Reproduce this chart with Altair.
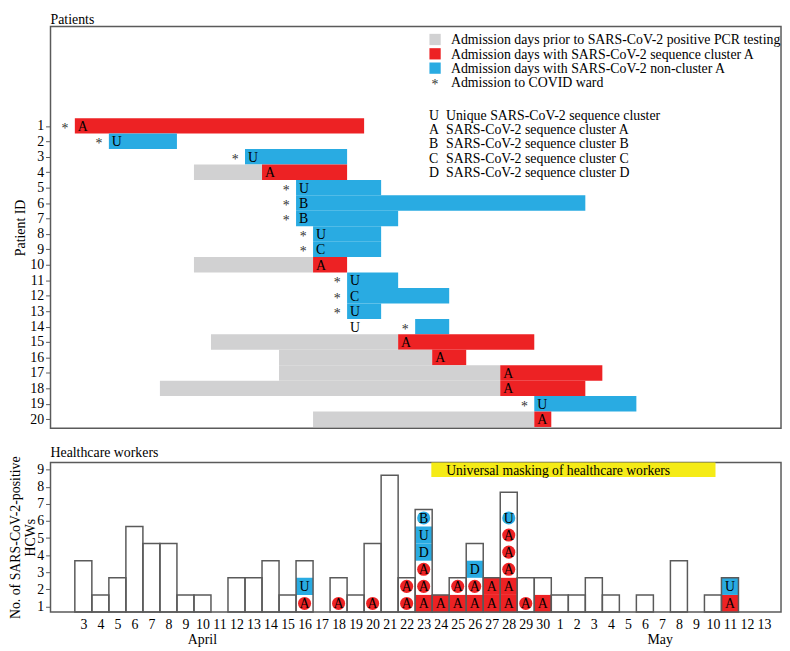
import altair as alt
import pandas as pd

FONT = "Liberation Serif"
RED = "#ED2224"
BLUE = "#29ABE2"
GRAY = "#D1D1D2"
YELLOW = "#F5EB17"
FRAME = "#5a5a5a"

# ---------------- Patients panel data ----------------
patient_ids = list(range(1, 21))
gray_start = [None, None, None, 10, None, None, None, None, None, 10, None, None, None, None, 11, 15, 15, 8, None, 17]
gray_end = [None, None, None, 13, None, None, None, None, None, 16, None, None, None, None, 21, 23, 27, 27, None, 29]
seq_start = [3, 5, 13, 14, 16, 16, 16, 17, 17, 17, 19, 19, 19, 23, 22, 24, 28, 28, 30, 30]
seq_end = [19, 8, 18, 18, 20, 32, 21, 20, 20, 18, 21, 24, 20, 24, 29, 25, 33, 32, 35, 30]
cluster_letter = ["A", "U", "U", "A", "U", "B", "B", "U", "C", "A", "U", "C", "U", "U", "A", "A", "A", "A", "U", "A"]
letter_day = [3, 5, 13, 14, 16, 16, 16, 17, 17, 17, 19, 19, 19, 19, 22, 24, 28, 28, 30, 30]
covid_ward = [1, 1, 1, 0, 1, 1, 1, 1, 1, 0, 1, 1, 1, 1, 0, 0, 0, 0, 1, 0]

legend_fill_labels = [
    "Admission days prior to SARS-CoV-2 positive PCR testing",
    "Admission days with SARS-CoV-2 sequence cluster A",
    "Admission days with SARS-CoV-2 non-cluster A",
]
legend_fill_kinds = ["gray", "A", "nonA"]
legend_star_label = "Admission to COVID ward"
legend_letters = ["U", "A", "B", "C", "D"]
legend_letter_labels = [
    "Unique SARS-CoV-2 sequence cluster",
    "SARS-CoV-2 sequence cluster A",
    "SARS-CoV-2 sequence cluster B",
    "SARS-CoV-2 sequence cluster C",
    "SARS-CoV-2 sequence cluster D",
]
top_title = "Patients"

# ---------------- HCW panel data ----------------
hcw_days = list(range(3, 44))  # day index: April 3 = 3 ... May 13 = 43
hcw_counts = [3, 1, 2, 5, 4, 4, 1, 1, 0, 2, 2, 3, 1, 3, 0, 2, 1, 4, 8, 2, 6, 1, 2, 4, 2, 7,
              2, 2, 1, 1, 2, 1, 0, 1, 0, 3, 0, 1, 2, 0, 0]
seq_day = [16, 16, 18, 20, 22, 22, 23, 23, 23, 23, 23, 23, 24, 25, 25, 26, 26, 26, 27, 27,
           28, 28, 28, 28, 28, 28, 29, 30, 41, 41]
seq_unit = [1, 2, 1, 1, 1, 2, 1, 2, 3, 4, 5, 6, 1, 1, 2, 1, 2, 3, 1, 2,
            1, 2, 3, 4, 5, 6, 1, 1, 1, 2]
seq_letter = ["A", "U", "A", "A", "A", "A", "A", "A", "A", "D", "U", "B", "A", "A", "A", "A", "A", "D", "A", "A",
              "A", "A", "A", "A", "A", "U", "A", "A", "A", "U"]
seq_marker = ["circle", "square", "circle", "circle", "circle", "circle", "square", "circle", "circle", "square",
              "square", "circle", "square", "square", "circle", "square", "circle", "square", "square", "square",
              "square", "square", "circle", "circle", "circle", "circle", "circle", "square", "square", "square"]
masking_label = "Universal masking of healthcare workers"
masking_start = 23.45
masking_end = 40.15
month_labels = ["April", "May"]
month_days = [10, 36.9]
bottom_title = "Healthcare workers"

# ---------------- scales ----------------
X_DOM = [1.07, 44.0]
TOP_DOM = [-5.434, 20.59]
BOT_DOM = [0.676, 9.42]
BASE = BOT_DOM[0]
W = 739
H_TOP = 406.5
H_BOT = 151.3

xs = alt.Scale(domain=X_DOM, nice=False, zero=False)
ys_top = alt.Scale(domain=TOP_DOM, reverse=True, nice=False, zero=False)
ys_bot = alt.Scale(domain=BOT_DOM, nice=False, zero=False)
fill_scale = alt.Scale(domain=["gray", "A", "nonA"], range=[GRAY, RED, BLUE])

y_top_axis = alt.Axis(values=patient_ids, title="Patient ID", tickSize=5, labelPadding=2,
                      domain=False, grid=False, tickColor=FRAME, labelFont=FONT, labelFontSize=14,
                      labelColor="black", labelOverlap=False, titleFont=FONT, titleFontSize=14,
                      titleFontWeight="normal", titleColor="black", titleX=-30, titleBaseline="middle")
x_bot_axis = alt.Axis(values=hcw_days, labelExpr="datum.value > 30 ? datum.value - 30 : datum.value",
                      ticks=False, domain=False, grid=False, labelPadding=6, labelFont=FONT,
                      labelFontSize=14, labelColor="black", title=None, labelFlush=False,
                      labelOverlap=False)
y_bot_axis = alt.Axis(values=list(range(1, 10)), title=["No. of SARS-CoV-2-positive", "HCWs"],
                      tickSize=5, labelPadding=2, domain=False, grid=False, tickColor=FRAME,
                      labelFont=FONT, labelFontSize=14, labelColor="black", labelOverlap=False,
                      titleFont=FONT, titleFontSize=14, titleFontWeight="normal", titleColor="black",
                      titleX=-35, titleBaseline="middle", titleLineHeight=15)


def XT(f):
    return alt.X(f, scale=xs, axis=None)


def YT(f):
    return alt.Y(f, scale=ys_top, axis=y_top_axis)


def XB(f):
    return alt.X(f, scale=xs, axis=x_bot_axis)


def YB(f):
    return alt.Y(f, scale=ys_bot, axis=y_bot_axis)


# ---------------- Patients tables ----------------
bar_rows = []
for i, p in enumerate(patient_ids):
    if gray_start[i] is not None:
        bar_rows.append(dict(pid=p, x0=gray_start[i] - 0.5, x1=gray_end[i] + 0.5, kind="gray"))
    bar_rows.append(dict(pid=p, x0=seq_start[i] - 0.5, x1=seq_end[i] + 0.5,
                         kind="A" if cluster_letter[i] == "A" else "nonA"))
bars = pd.DataFrame(bar_rows)
bars["y0"] = bars["pid"] - 0.5
bars["y1"] = bars["pid"] + 0.5

letters = pd.DataFrame(dict(pid=patient_ids, x=[d - 0.5 for d in letter_day], letter=cluster_letter))
stars = pd.DataFrame(dict(pid=patient_ids, x=[s - 0.5 for s in seq_start], ward=covid_ward))
stars = stars[stars["ward"] == 1]

LEG_Y0, LEG_STEP = -4.595, 0.928
LEG2_Y0 = 0.27
leg1 = pd.DataFrame(dict(label=legend_fill_labels, kind=legend_fill_kinds))
leg1["y"] = [LEG_Y0 + i * LEG_STEP for i in range(len(leg1))]
leg1["xs"] = 23.67
leg1["xt"] = 24.6
leg_star = pd.DataFrame(dict(label=[legend_star_label], y=[LEG_Y0 + 3 * LEG_STEP], xs=[23.67], xt=[24.6]))
leg2 = pd.DataFrame(dict(letter=legend_letters, label=legend_letter_labels))
leg2["y"] = [LEG2_Y0 + i * LEG_STEP for i in range(len(leg2))]
leg2["xl"] = 23.32
leg2["xt"] = 24.31
ttl_top = pd.DataFrame(dict(label=[top_title], x=[X_DOM[0]], y=[TOP_DOM[0]]))

txt = dict(font=FONT, color="black")

top_bars = alt.Chart(bars).mark_rect().encode(
    x=XT("x0:Q"), x2="x1:Q", y=YT("y0:Q"), y2="y1:Q",
    color=alt.Color("kind:N", scale=fill_scale, legend=None))
top_letters = alt.Chart(letters).mark_text(fontSize=14, align="left", baseline="middle", dx=3, dy=1, **txt).encode(
    x=XT("x:Q"), y=YT("pid:Q"), text="letter:N")
top_stars = alt.Chart(stars).mark_text(font=FONT, fontSize=14, align="center", baseline="middle",
                                        dx=-10, dy=3, color="#333333").encode(
    x=XT("x:Q"), y=YT("pid:Q"), text=alt.value("*"))
leg1_sym = alt.Chart(leg1).mark_square(size=130, opacity=1).encode(
    x=XT("xs:Q"), y=YT("y:Q"), color=alt.Color("kind:N", scale=fill_scale, legend=None))
leg1_txt = alt.Chart(leg1).mark_text(fontSize=14, align="left", baseline="middle", dy=1, **txt).encode(
    x=XT("xt:Q"), y=YT("y:Q"), text="label:N")
legs_sym = alt.Chart(leg_star).mark_text(font=FONT, fontSize=14, align="center", baseline="middle",
                                          dy=3, color="#333333").encode(
    x=XT("xs:Q"), y=YT("y:Q"), text=alt.value("*"))
legs_txt = alt.Chart(leg_star).mark_text(fontSize=14, align="left", baseline="middle", dy=1, **txt).encode(
    x=XT("xt:Q"), y=YT("y:Q"), text="label:N")
leg2_let = alt.Chart(leg2).mark_text(fontSize=14, align="left", baseline="middle", dy=1, **txt).encode(
    x=XT("xl:Q"), y=YT("y:Q"), text="letter:N")
leg2_txt = alt.Chart(leg2).mark_text(fontSize=14, align="left", baseline="middle", dy=1, **txt).encode(
    x=XT("xt:Q"), y=YT("y:Q"), text="label:N")
top_ttl = alt.Chart(ttl_top).mark_text(fontSize=14, align="left", baseline="alphabetic", dy=-3, **txt).encode(
    x=XT("x:Q"), y=YT("y:Q"), text="label:N")

top = alt.layer(top_bars, top_letters, top_stars, leg1_sym, leg1_txt, legs_sym, legs_txt,
                leg2_let, leg2_txt, top_ttl).properties(width=W, height=H_TOP)

# ---------------- HCW tables ----------------
counts = pd.DataFrame(dict(day=hcw_days, count=hcw_counts))
counts = counts[counts["count"] > 0].copy()
counts["x0"] = counts["day"] - 0.5
counts["x1"] = counts["day"] + 0.5
counts["y0"] = BASE
counts["y1"] = BASE + counts["count"]

seq = pd.DataFrame(dict(day=seq_day, unit=seq_unit, letter=seq_letter, marker=seq_marker))
seq["kind"] = ["A" if l == "A" else "nonA" for l in seq["letter"]]
seq["x0"] = seq["day"] - 0.5
seq["x1"] = seq["day"] + 0.5
seq["y0"] = BASE + seq["unit"] - 1
seq["y1"] = BASE + seq["unit"]
seq["yc"] = BASE + seq["unit"] - 0.5
seq_sq = seq[seq["marker"] == "square"]
seq_ci = seq[seq["marker"] == "circle"]

mask = pd.DataFrame(dict(x0=[masking_start], x1=[masking_end], y0=[BOT_DOM[1] - 0.85], y1=[BOT_DOM[1]],
                         ym=[BOT_DOM[1] - 0.425], label=[masking_label]))
months = pd.DataFrame(dict(x=month_days, label=month_labels, y=[BASE] * len(month_labels)))
ttl_bot = pd.DataFrame(dict(label=[bottom_title], x=[X_DOM[0]], y=[BOT_DOM[1]]))

bot_sq = alt.Chart(seq_sq).mark_rect().encode(
    x=XB("x0:Q"), x2="x1:Q", y=YB("y0:Q"), y2="y1:Q",
    color=alt.Color("kind:N", scale=fill_scale, legend=None))
bot_out = alt.Chart(counts).mark_rect(fillOpacity=0, stroke=FRAME, strokeWidth=1.5).encode(
    x=XB("x0:Q"), x2="x1:Q", y=YB("y0:Q"), y2="y1:Q")
bot_ci = alt.Chart(seq_ci).mark_point(filled=True, shape="circle", size=175, opacity=1).encode(
    x=XB("day:Q"), y=YB("yc:Q"), color=alt.Color("kind:N", scale=fill_scale, legend=None))
bot_let = alt.Chart(seq).mark_text(fontSize=14, align="center", baseline="middle", dy=1, **txt).encode(
    x=XB("day:Q"), y=YB("yc:Q"), text="letter:N")
bot_mask = alt.Chart(mask).mark_rect(color=YELLOW).encode(
    x=XB("x0:Q"), x2="x1:Q", y=YB("y0:Q"), y2="y1:Q")
bot_mask_txt = alt.Chart(mask).mark_text(fontSize=13.8, align="left", baseline="middle", dx=15, dy=1, **txt).encode(
    x=XB("x0:Q"), y=YB("ym:Q"), text="label:N")
bot_months = alt.Chart(months).mark_text(fontSize=14, align="center", baseline="alphabetic", dy=32, **txt).encode(
    x=XB("x:Q"), y=YB("y:Q"), text="label:N")
bot_ttl = alt.Chart(ttl_bot).mark_text(fontSize=14, align="left", baseline="alphabetic", dy=-6, **txt).encode(
    x=XB("x:Q"), y=YB("y:Q"), text="label:N")

bottom = alt.layer(bot_mask, bot_sq, bot_out, bot_ci, bot_let, bot_mask_txt, bot_months, bot_ttl).properties(
    width=W, height=H_BOT)

chart = alt.vconcat(top, bottom, spacing=34, bounds="flush").configure_view(
    stroke=FRAME, strokeWidth=1.5).properties(padding={"left": 0, "top": 0, "right": 0, "bottom": 0})

chart.save("out.html", embed_options={"renderer": "svg", "actions": False})
